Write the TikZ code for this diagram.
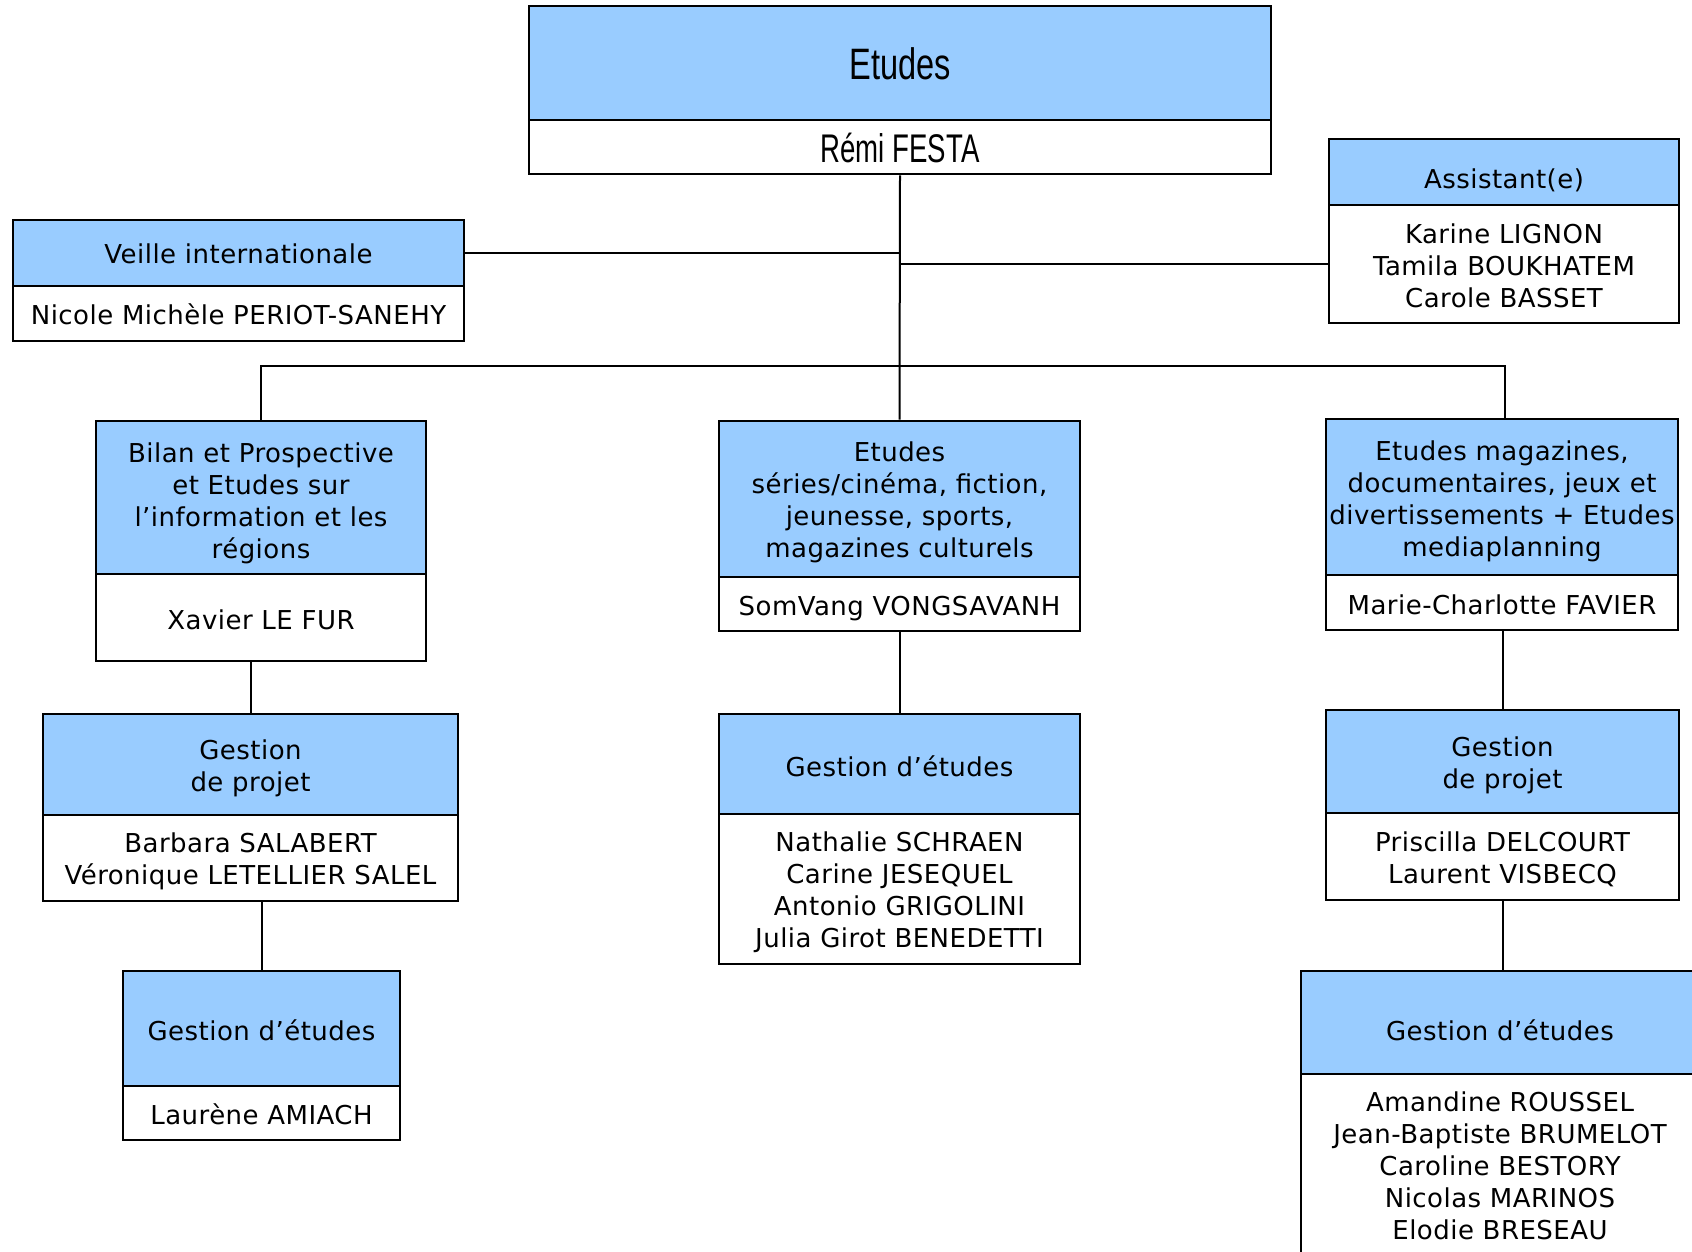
\documentclass[tikz,border=0pt]{standalone}
\usepackage{fontspec}
\setmainfont{DejaVu Sans}[LetterSpace=1.8]
\newfontfamily\titlefont{Liberation Sans}
\definecolor{hdrblue}{HTML}{99CCFF}
\begin{document}
\begin{tikzpicture}[x=1pt,y=-1pt,
  box/.style={draw=black, line width=2.8pt, inner sep=0pt},
  hdr/.style={box, fill=hdrblue},
  nam/.style={box, fill=white},
  lbl/.style={inner sep=0pt, align=center, text=black, font=\fontsize{26}{32}\selectfont},
  link/.style={draw=black, line width=2pt}]
\clip (0,0) rectangle (1692,1251);
\fill[white] (0,0) rectangle (1692,1251);

% top
\node[hdr, minimum width=742pt, minimum height=114pt,
  label={[lbl, yshift=-1pt]center:{\titlefont\scalebox{0.74}[1]{\fontsize{44}{50}\selectfont Etudes}}}] (top) at (900,63) {};
\node[nam, minimum width=742pt, minimum height=54pt,
  label={[lbl, yshift=-1pt]center:{\titlefont\scalebox{0.69}[1]{\fontsize{40}{46}\selectfont Rémi FESTA}}}] (topw) at (900,147) {};

% veille
\node[hdr, minimum width=451pt, minimum height=66pt,
  label={[lbl, yshift=-1pt]center:{Veille internationale}}] (vei) at (238.5,253) {};
\node[nam, minimum width=451pt, minimum height=55pt,
  label={[lbl, yshift=-1pt]center:{Nicole Michèle PERIOT-SANEHY}}] (veiw) at (238.5,313.5) {};

% assistant
\node[hdr, minimum width=350pt, minimum height=66pt,
  label={[lbl, yshift=-8.6pt]center:{Assistant(e)}}] (ass) at (1504,172) {};
\node[nam, minimum width=350pt, minimum height=118pt,
  label={[lbl, yshift=-2pt]center:{Karine LIGNON\\Tamila BOUKHATEM\\Carole BASSET}}] (assw) at (1504,264) {};

% bilan
\node[hdr, minimum width=330pt, minimum height=153pt,
  label={[lbl, yshift=-5.4pt]center:{Bilan et Prospective\\et Etudes sur\\l’information et les\\régions}}] (bil) at (261,497.5) {};
\node[nam, minimum width=330pt, minimum height=87pt,
  label={[lbl, yshift=-2pt]center:{Xavier LE FUR}}] (bilw) at (261,617.5) {};

% series
\node[hdr, minimum width=361pt, minimum height=156pt,
  label={[lbl, yshift=-3.2pt]center:{Etudes\\séries/cinéma, fiction,\\jeunesse, sports,\\magazines culturels}}] (ser) at (899.5,499) {};
\node[nam, minimum width=361pt, minimum height=54pt,
  label={[lbl, yshift=-4.3pt]center:{SomVang VONGSAVANH}}] (serw) at (899.5,604) {};

% magazines
\node[hdr, minimum width=352pt, minimum height=156pt,
  label={[lbl, yshift=-4.3pt]center:{Etudes magazines,\\documentaires, jeux et\\divertissements + Etudes\\mediaplanning}}] (mag) at (1502,497) {};
\node[nam, minimum width=352pt, minimum height=55pt,
  label={[lbl, yshift=-2.2pt]center:{Marie-Charlotte FAVIER}}] (magw) at (1502,602.5) {};

% gestion de projet left
\node[hdr, minimum width=415pt, minimum height=101pt,
  label={[lbl, yshift=-4.3pt]center:{Gestion\\de projet}}] (gpl) at (250.5,764.5) {};
\node[nam, minimum width=415pt, minimum height=86pt,
  label={[lbl, yshift=-3.8pt]center:{Barbara SALABERT\\Véronique LETELLIER SALEL}}] (gplw) at (250.5,858) {};

% gestion d'etudes middle
\node[hdr, minimum width=361pt, minimum height=100pt,
  label={[lbl, yshift=-2.2pt]center:{Gestion d’études}}] (gem) at (899.5,764) {};
\node[nam, minimum width=361pt, minimum height=150pt,
  label={[lbl, yshift=-3.2pt]center:{Nathalie SCHRAEN\\Carine JESEQUEL\\Antonio GRIGOLINI\\Julia Girot BENEDETTI}}] (gemw) at (899.5,889) {};

% gestion de projet right
\node[hdr, minimum width=353pt, minimum height=103pt,
  label={[lbl, yshift=-3.8pt]center:{Gestion\\de projet}}] (gpr) at (1502.5,761.5) {};
\node[nam, minimum width=353pt, minimum height=87pt,
  label={[lbl, yshift=-3.2pt]center:{Priscilla DELCOURT\\Laurent VISBECQ}}] (gprw) at (1502.5,856.5) {};

% gestion d'etudes left
\node[hdr, minimum width=277pt, minimum height=115pt,
  label={[lbl, yshift=-2.2pt]center:{Gestion d’études}}] (gel) at (261.5,1028.5) {};
\node[nam, minimum width=277pt, minimum height=54pt,
  label={[lbl, yshift=-1pt]center:{Laurène AMIACH}}] (gelw) at (261.5,1113) {};

% gestion d'etudes right
\node[hdr, minimum width=409pt, minimum height=103pt,
  label={[lbl, yshift=-7.5pt, xshift=-5.5pt]center:{Gestion d’études}}] (ger) at (1505.5,1022.5) {};
\node[nam, minimum width=409pt, minimum height=184pt,
  label={[lbl, xshift=-5.5pt]center:{Amandine ROUSSEL\\Jean-Baptiste BRUMELOT\\Caroline BESTORY\\Nicolas MARINOS\\Elodie BRESEAU}}] (gerw) at (1505.5,1166) {};

% connectors
\coordinate (bus) at (900,366);
\coordinate (busR) at (1505,366);
\draw[link] (topw.south) -- (ser.north);
\draw[link] (vei.east) -- (vei.east -| topw.south);
\draw[link] (assw.west) -- (assw.west -| topw.south);
\draw[link] (bil.north) |- (busR) -- (busR |- mag.north);
\draw[link] (gpl.north) -- (gpl.north |- bilw.south);
\draw[link] (gel.north) -- (gel.north |- gplw.south);
\draw[link] (gem.north) -- (serw.south);
\draw[link] (gpr.north) -- (gpr.north |- magw.south);
\draw[link] (gprw.south) -- (gprw.south |- ger.north);
\end{tikzpicture}
\end{document}
